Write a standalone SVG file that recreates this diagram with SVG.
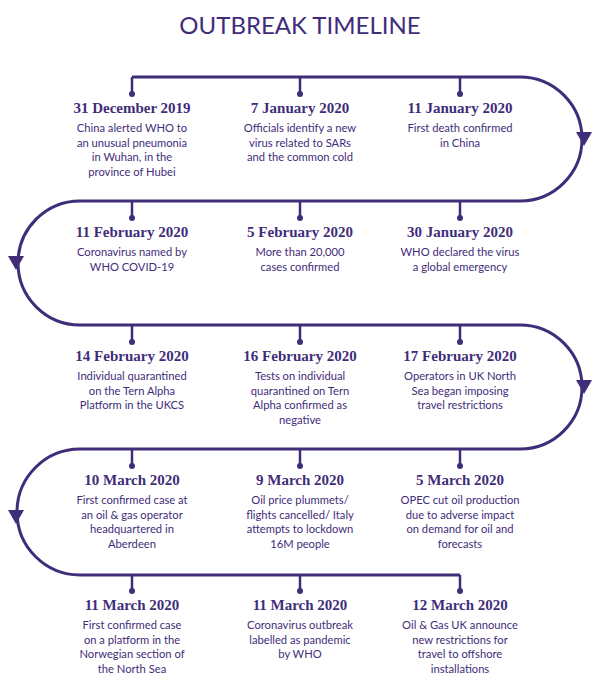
<svg xmlns="http://www.w3.org/2000/svg" width="600" height="686" viewBox="0 0 600 686">
<style>
.t{font-family:Lato,"Open Sans",sans-serif;font-size:24px;fill:#3f2d7a;text-anchor:middle}
.d{font-family:"Liberation Serif",serif;font-weight:bold;font-size:15px;fill:#3f2d7a;text-anchor:middle}
.b{font-family:Lato,"Open Sans",sans-serif;font-size:11.2px;fill:#3f2d7a;text-anchor:middle}
.l{fill:none;stroke:#3f2d7a;stroke-width:3}
.k{stroke:#3f2d7a;stroke-width:2.5}
.p{fill:#3f2d7a}
</style>
<rect width="600" height="686" fill="#fff"/>
<text class="t" x="300" y="34">OUTBREAK TIMELINE</text>
<g id="connectors">
<path class="l" d="M132,77 H520 A62,62 0 0 1 520,201 H80 A62,62 0 0 0 80,325 H520 A62,62 0 0 1 520,449 H80 A62,62 0 0 0 80,575 H460"/>
<polygon class="p" points="576,132 592,132 584,146"/>
<polygon class="p" points="8,256 24,256 16,270"/>
<polygon class="p" points="576,380 592,380 584,394"/>
<polygon class="p" points="8,510 24,510 16,524"/>
<g class="k">
<line x1="132" y1="77" x2="132" y2="94"/><line x1="300" y1="77" x2="300" y2="94"/><line x1="460" y1="77" x2="460" y2="94"/>
<line x1="132" y1="201" x2="132" y2="218"/><line x1="300" y1="201" x2="300" y2="218"/><line x1="460" y1="201" x2="460" y2="218"/>
<line x1="132" y1="325" x2="132" y2="342"/><line x1="300" y1="325" x2="300" y2="342"/><line x1="460" y1="325" x2="460" y2="342"/>
<line x1="132" y1="449" x2="132" y2="466"/><line x1="300" y1="449" x2="300" y2="466"/><line x1="460" y1="449" x2="460" y2="466"/>
<line x1="132" y1="575" x2="132" y2="591"/><line x1="300" y1="575" x2="300" y2="591"/><line x1="460" y1="575" x2="460" y2="591"/>
</g>
<g class="p">
<circle cx="132" cy="94" r="3"/><circle cx="300" cy="94" r="3"/><circle cx="460" cy="94" r="3"/>
<circle cx="132" cy="218" r="3"/><circle cx="300" cy="218" r="3"/><circle cx="460" cy="218" r="3"/>
<circle cx="132" cy="342" r="3"/><circle cx="300" cy="342" r="3"/><circle cx="460" cy="342" r="3"/>
<circle cx="132" cy="466" r="3"/><circle cx="300" cy="466" r="3"/><circle cx="460" cy="466" r="3"/>
<circle cx="132" cy="591" r="3"/><circle cx="300" cy="591" r="3"/><circle cx="460" cy="591" r="3"/>
</g>
</g>
<g id="n1"><text class="d" x="132" y="113">31 December 2019</text><text class="b" x="132" y="132">China alerted WHO to</text><text class="b" x="132" y="147">an unusual pneumonia</text><text class="b" x="132" y="161">in Wuhan, in the</text><text class="b" x="132" y="176">province of Hubei</text></g>
<g id="n2"><text class="d" x="300" y="113">7 January 2020</text><text class="b" x="300" y="132">Officials identify a new</text><text class="b" x="300" y="147">virus related to SARs</text><text class="b" x="300" y="161">and the common cold</text></g>
<g id="n3"><text class="d" x="460" y="113">11 January 2020</text><text class="b" x="460" y="132">First death confirmed</text><text class="b" x="460" y="147">in China</text></g>
<g id="n4"><text class="d" x="132" y="237">11 February 2020</text><text class="b" x="132" y="256">Coronavirus named by</text><text class="b" x="132" y="271">WHO COVID-19</text></g>
<g id="n5"><text class="d" x="300" y="237">5 February 2020</text><text class="b" x="300" y="256">More than 20,000</text><text class="b" x="300" y="271">cases confirmed</text></g>
<g id="n6"><text class="d" x="460" y="237">30 January 2020</text><text class="b" x="460" y="256">WHO declared the virus</text><text class="b" x="460" y="271">a global emergency</text></g>
<g id="n7"><text class="d" x="132" y="361">14 February 2020</text><text class="b" x="132" y="380">Individual quarantined</text><text class="b" x="132" y="395">on the Tern Alpha</text><text class="b" x="132" y="409">Platform in the UKCS</text></g>
<g id="n8"><text class="d" x="300" y="361">16 February 2020</text><text class="b" x="300" y="380">Tests on individual</text><text class="b" x="300" y="395">quarantined on Tern</text><text class="b" x="300" y="409">Alpha confirmed as</text><text class="b" x="300" y="424">negative</text></g>
<g id="n9"><text class="d" x="460" y="361">17 February 2020</text><text class="b" x="460" y="380">Operators in UK North</text><text class="b" x="460" y="395">Sea began imposing</text><text class="b" x="460" y="409">travel restrictions</text></g>
<g id="n10"><text class="d" x="132" y="485">10 March 2020</text><text class="b" x="132" y="504">First confirmed case at</text><text class="b" x="132" y="519">an oil &amp; gas operator</text><text class="b" x="132" y="533">headquartered in</text><text class="b" x="132" y="548">Aberdeen</text></g>
<g id="n11"><text class="d" x="300" y="485">9 March 2020</text><text class="b" x="300" y="504">Oil price plummets/</text><text class="b" x="300" y="519">flights cancelled/ Italy</text><text class="b" x="300" y="533">attempts to lockdown</text><text class="b" x="300" y="548">16M people</text></g>
<g id="n12"><text class="d" x="460" y="485">5 March 2020</text><text class="b" x="460" y="504">OPEC cut oil production</text><text class="b" x="460" y="519">due to adverse impact</text><text class="b" x="460" y="533">on demand for oil and</text><text class="b" x="460" y="548">forecasts</text></g>
<g id="n13"><text class="d" x="132" y="610">11 March 2020</text><text class="b" x="132" y="629">First confirmed case</text><text class="b" x="132" y="644">on a platform in the</text><text class="b" x="132" y="658">Norwegian section of</text><text class="b" x="132" y="673">the North Sea</text></g>
<g id="n14"><text class="d" x="300" y="610">11 March 2020</text><text class="b" x="300" y="629">Coronavirus outbreak</text><text class="b" x="300" y="644">labelled as pandemic</text><text class="b" x="300" y="658">by WHO</text></g>
<g id="n15"><text class="d" x="460" y="610">12 March 2020</text><text class="b" x="460" y="629">Oil &amp; Gas UK announce</text><text class="b" x="460" y="644">new restrictions for</text><text class="b" x="460" y="658">travel to offshore</text><text class="b" x="460" y="673">installations</text></g>
</svg>
